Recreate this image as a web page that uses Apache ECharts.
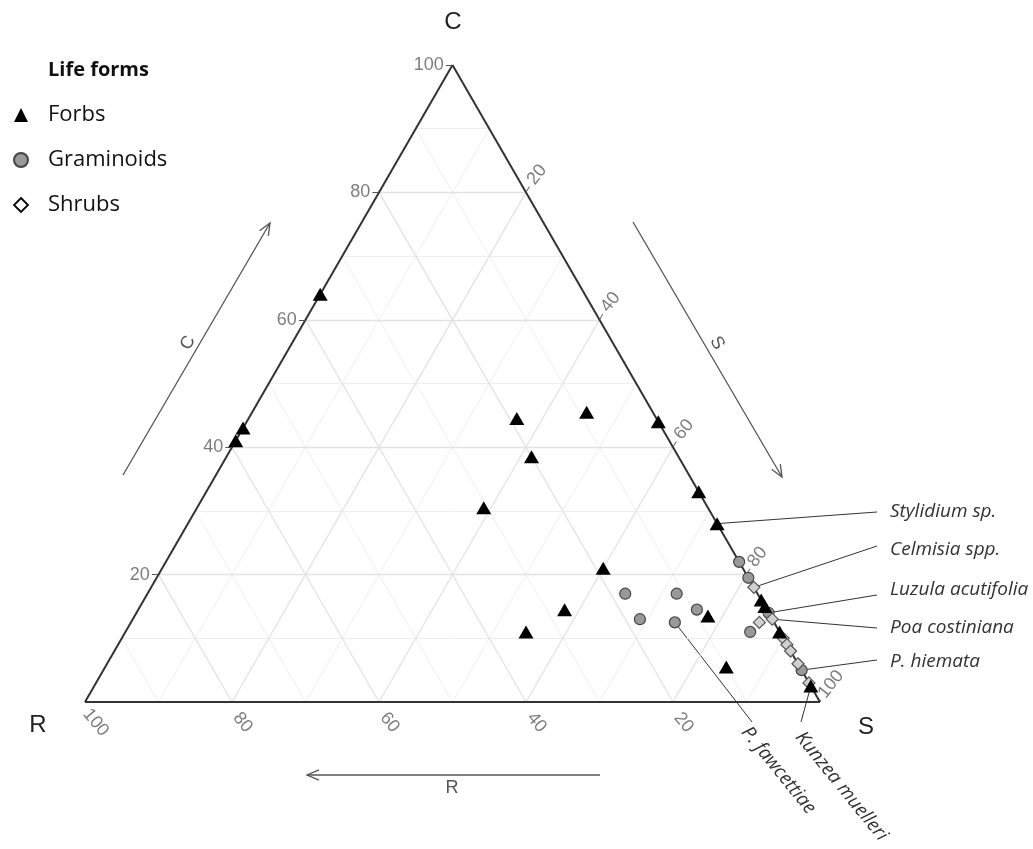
<!DOCTYPE html>
<html>
<head>
<meta charset="utf-8">
<style>
  html, body { margin: 0; padding: 0; background: #fff; }
  #chart { width: 1033px; height: 849px; }
</style>
<script src="https://cdn.jsdelivr.net/npm/echarts@6/dist/echarts.min.js"></script>
</head>
<body>
<div id="chart"></div>
<script>
// ternary values in %, R = 100 - C - S
const forbsC = [64, 43, 41, 44.5, 45.5, 44, 38.5, 30.5, 33, 28, 21, 14.5, 11, 13.5, 5.5, 16, 15, 11, 2.5];
const forbsS = [0, 0, 0, 36.5, 45.5, 56, 41.5, 39, 67, 72, 60, 58, 54.5, 78, 84.5, 84, 85, 89, 97.5];

const gramC = [17, 17, 14.5, 13, 12.5, 11, 22, 19.5, 14, 5];
const gramS = [65, 72, 76, 69, 74, 85, 78, 80.5, 86, 95];

const shrubC = [18, 13, 12.5, 10, 9, 8, 6, 3];
const shrubS = [82, 87, 85.5, 90, 91, 92, 94, 97];

const tickValues = [20, 40, 60, 80, 100];
const gridValues = [10, 20, 30, 40, 50, 60, 70, 80, 90];

// species labels: which point, where the leader ends, where the text sits
const species = [
  {name: 'Stylidium sp.', group: 'forbs', idx: 9, end: [877, 512], at: [890, 512], rot: 0},
  {name: 'Celmisia spp.', group: 'shrubs', idx: 0, end: [877, 546], at: [890, 550], rot: 0},
  {name: 'Luzula acutifolia', group: 'gram', idx: 8, end: [877, 595], at: [890, 590], rot: 0},
  {name: 'Poa costiniana', group: 'shrubs', idx: 1, end: [877, 628], at: [890, 628], rot: 0},
  {name: 'P. hiemata', group: 'gram', idx: 9, end: [877, 660], at: [890, 662], rot: 0},
  {name: 'P. fawcettiae', group: 'gram', idx: 4, end: [752, 722], at: [745, 729], rot: -51},
  {name: 'Kunzea muelleri', group: 'forbs', idx: 18, end: [801, 722], at: [799, 734], rot: -51}
];

const H = Math.sqrt(3) / 2;
// C at top, R bottom-left, S bottom-right
function tern(c, s) { return [s + c / 2, c * H]; }
function pts(C, S) { return C.map((c, i) => tern(c, S[i])); }

// grid lines of constant C, S and R
function gridLines(vals) {
  const out = [];
  vals.forEach(v => {
    out.push({coords: [tern(v, 0), tern(v, 100 - v)]});
    out.push({coords: [tern(0, v), tern(100 - v, v)]});
    out.push({coords: [tern(0, 100 - v), tern(100 - v, 0)]});
  });
  return out;
}
const minorLines = gridLines(gridValues.filter(v => v % 20 !== 0));
const majorLines = gridLines(gridValues.filter(v => v % 20 === 0));
const border = [
  {coords: [tern(0, 0), tern(0, 100)]},
  {coords: [tern(0, 100), tern(100, 0)]},
  {coords: [tern(100, 0), tern(0, 0)]}
];

// short ticks: grid lines carried past the edges
const ticks = [];
const leftLab = [], rightLab = [], bottomLab = [];
tickValues.forEach(v => {
  const l = tern(v, 0);
  ticks.push({coords: [l, [l[0] - 0.9, l[1]]]});
  leftLab.push({value: [l[0] - 0.9, l[1]], t: v});
  const r = tern(100 - v, v);
  ticks.push({coords: [r, [r[0] + 0.45, r[1] + 0.78]]});
  rightLab.push({value: [r[0] + 1.5, r[1] + 2.4], t: v});
  const b = tern(0, 100 - v);
  ticks.push({coords: [b, [b[0] + 0.45, b[1] - 0.78]]});
  bottomLab.push({value: [b[0] + 1.45, b[1] - 2.8], t: v});
});

const tickFont = {fontFamily: 'Liberation Sans', fontSize: 18, color: '#5c5c5c'};

const chart = echarts.init(document.getElementById('chart'));
const option = {
  animation: false,
  title: {
    text: 'Life forms', left: 43, top: 55,
    textStyle: {fontFamily: 'Open Sans', fontWeight: 'bold', fontSize: 20, color: '#111'}
  },
  legend: {
    orient: 'vertical', left: 8, top: 97,
    itemWidth: 14, itemHeight: 14, itemGap: 19,
    textStyle: {fontFamily: 'Open Sans', fontSize: 22, color: '#111', lineHeight: 26, padding: [0, 0, 0, 15]},
    data: [
      {name: 'Forbs'},
      {name: 'Graminoids'},
      {name: 'Shrubs', itemStyle: {color: '#fff', borderColor: '#000', borderWidth: 1.8}}
    ]
  },
  grid: {left: 85, top: 65, width: 735, height: 637},
  xAxis: {type: 'value', min: 0, max: 100, show: false},
  yAxis: {type: 'value', min: 0, max: 100 * H, show: false},
  series: [
    {type: 'lines', coordinateSystem: 'cartesian2d', silent: true, z: 1,
      lineStyle: {color: '#eeeeee', width: 1, opacity: 1}, data: minorLines},
    {type: 'lines', coordinateSystem: 'cartesian2d', silent: true, z: 1,
      lineStyle: {color: '#e2e2e2', width: 1.3, opacity: 1}, data: majorLines},
    {type: 'lines', coordinateSystem: 'cartesian2d', silent: true, z: 2,
      lineStyle: {color: '#333', width: 2, opacity: 1}, data: border},
    {type: 'lines', coordinateSystem: 'cartesian2d', silent: true, z: 2,
      lineStyle: {color: '#555', width: 1, opacity: 1}, data: ticks},
    {type: 'scatter', symbolSize: 0, silent: true, clip: false, data: leftLab,
      label: Object.assign({show: true, position: 'left', distance: 2, formatter: p => p.data.t}, tickFont)},
    {type: 'scatter', symbolSize: 0, silent: true, clip: false, data: rightLab,
      label: Object.assign({show: true, position: 'inside', rotate: 52, formatter: p => p.data.t}, tickFont)},
    {type: 'scatter', symbolSize: 0, silent: true, clip: false, data: bottomLab,
      label: Object.assign({show: true, position: 'inside', rotate: -50, formatter: p => p.data.t}, tickFont)},
    {name: 'Forbs', type: 'scatter', symbol: 'triangle', symbolSize: [15, 13], z: 5, clip: false,
      itemStyle: {color: '#000', opacity: 1}, data: pts(forbsC, forbsS)},
    {name: 'Graminoids', type: 'scatter', symbol: 'circle', symbolSize: 11, z: 4, clip: false,
      itemStyle: {color: '#999', borderColor: '#444', borderWidth: 1.2, opacity: 1}, data: pts(gramC, gramS)},
    {name: 'Shrubs', type: 'scatter', symbol: 'diamond', symbolSize: 12, z: 4, clip: false,
      itemStyle: {color: '#d0d0d0', borderColor: '#555', borderWidth: 1.2, opacity: 1}, data: pts(shrubC, shrubS)}
  ]
};
chart.setOption(option);

// annotations
const groups = {forbs: pts(forbsC, forbsS), gram: pts(gramC, gramS), shrubs: pts(shrubC, shrubS)};
const g = [];
const axisFont = {fontFamily: 'Liberation Sans', fontSize: 24, fill: '#222'};
[['C', 453, 22], ['R', 38, 725], ['S', 866, 727]].forEach(([t, x, y]) => {
  g.push({type: 'text', x: x, y: y, style: Object.assign({text: t, align: 'center', verticalAlign: 'middle'}, axisFont)});
});

function arrow(x1, y1, x2, y2) {
  const dx = x2 - x1, dy = y2 - y1, len = Math.hypot(dx, dy);
  const ux = dx / len, uy = dy / len, hl = 13, a = 0.4;
  const p1 = [x2 - hl * (ux * Math.cos(a) - uy * Math.sin(a)), y2 - hl * (uy * Math.cos(a) + ux * Math.sin(a))];
  const p2 = [x2 - hl * (ux * Math.cos(a) + uy * Math.sin(a)), y2 - hl * (uy * Math.cos(a) - ux * Math.sin(a))];
  g.push({type: 'line', shape: {x1, y1, x2, y2}, style: {stroke: '#555', lineWidth: 1.3}});
  g.push({type: 'polyline', shape: {points: [p1, [x2, y2], p2]}, style: {stroke: '#555', lineWidth: 1.3, fill: null}});
}
arrow(123, 475, 270, 223);
arrow(633, 222, 782, 477);
arrow(600, 775, 307, 775);
const arrowFont = {fontFamily: 'Liberation Sans', fontSize: 18, fill: '#555', align: 'center', verticalAlign: 'middle'};
g.push({type: 'text', x: 188, y: 343, rotation: Math.PI / 3, style: Object.assign({text: 'C'}, arrowFont)});
g.push({type: 'text', x: 717, y: 343, rotation: -Math.PI / 3, style: Object.assign({text: 'S'}, arrowFont)});
g.push({type: 'text', x: 452, y: 788, style: Object.assign({text: 'R'}, arrowFont)});

species.forEach(sp => {
  const p = chart.convertToPixel({gridIndex: 0}, groups[sp.group][sp.idx]);
  g.push({type: 'line', z: 0, shape: {x1: p[0], y1: p[1], x2: sp.end[0], y2: sp.end[1]},
    style: {stroke: '#333', lineWidth: 1}});
  g.push({type: 'text', x: sp.at[0], y: sp.at[1], rotation: sp.rot * Math.PI / 180,
    style: {text: sp.name, fontFamily: 'Open Sans', fontStyle: 'italic', fontSize: 19, fill: '#333',
      align: 'left', verticalAlign: 'middle'}});
});
chart.setOption({graphic: g});
</script>
</body>
</html>
